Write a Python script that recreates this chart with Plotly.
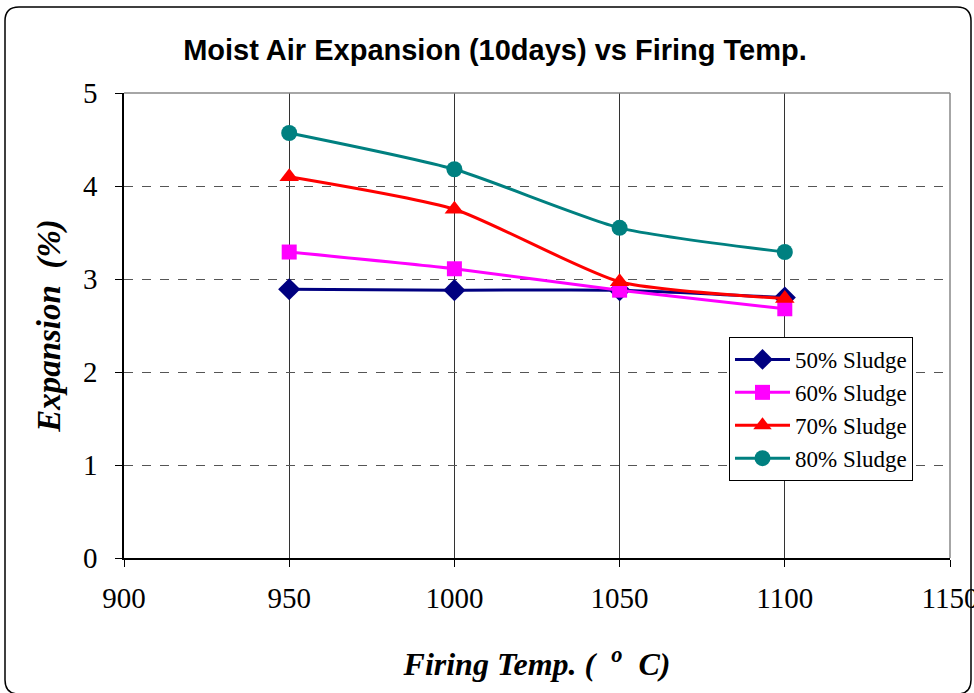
import plotly.graph_objects as go

temps = [950, 1000, 1050, 1100]
sludge50 = [2.89, 2.88, 2.88, 2.80]
sludge60 = [3.29, 3.11, 2.88, 2.68]
sludge70 = [4.10, 3.75, 2.97, 2.79]
sludge80 = [4.57, 4.18, 3.55, 3.29]

series = [
    ("50% Sludge", sludge50, "#000080", "diamond", 17),
    ("60% Sludge", sludge60, "#FF00FF", "square", 15),
    ("70% Sludge", sludge70, "#FF0000", "triangle-up", 17),
    ("80% Sludge", sludge80, "#008080", "circle", 16),
]

W, H = 974, 693
L, R, T, B = 124, 950, 93, 558

fig = go.Figure()
for name, vals, col, sym, sz in series:
    fig.add_trace(go.Scatter(
        x=temps, y=vals, name=name, mode="lines+markers",
        line=dict(color=col, width=3, shape="spline", smoothing=0.6),
        marker=dict(symbol=sym, size=sz, color=col),
    ))

def px(x):
    return (x - L) / (R - L)

def py(y):
    return (B - y) / (B - T)

# rounded outer border
x0, x1, y0, y1, r = 5, 971, 7, 694, 14
rx = r / (R - L)
ry = r / (B - T)
X0, X1, Y0, Y1 = px(x0), px(x1), py(y1), py(y0)
path = (f"M {X0+rx},{Y1} L {X1-rx},{Y1} Q {X1},{Y1} {X1},{Y1-ry} "
        f"L {X1},{Y0+ry} Q {X1},{Y0} {X1-rx},{Y0} L {X0+rx},{Y0} "
        f"Q {X0},{Y0} {X0},{Y0+ry} L {X0},{Y1-ry} Q {X0},{Y1} {X0+rx},{Y1} Z")

fig.update_layout(
    width=W, height=H,
    margin=dict(l=L, r=W - R, t=T, b=H - B, autoexpand=False),
    paper_bgcolor="white", plot_bgcolor="white",
    title=dict(text="<b>Moist Air Expansion (10days) vs Firing Temp.</b>",
               x=495 / W, xanchor="center", y=1 - 50 / H, yanchor="middle",
               font=dict(family="Liberation Sans", size=29, color="black")),
    xaxis=dict(range=[900, 1150], tickvals=[900, 950, 1000, 1050, 1100, 1150],
               showgrid=True, gridcolor="#333333", gridwidth=1, griddash="solid",
               showline=True, linecolor="black", linewidth=1.5,
               ticks="outside", ticklen=7, tickcolor="black",
               tickfont=dict(family="Liberation Serif", size=29, color="black"),
               ticklabelstandoff=6, ticklabeloverflow="allow",
               zeroline=False, automargin=False,
               title=dict(text="<b><i>Firing Temp. (  <sup>o</sup>  C)</i></b>",
                          font=dict(family="Liberation Serif", size=32, color="black"),
                          standoff=40)),
    yaxis=dict(range=[0, 5], tickvals=[0, 1, 2, 3, 4, 5],
               showgrid=True, gridcolor="#555555", gridwidth=1, griddash="dash",
               showline=True, linecolor="black", linewidth=1.5,
               ticks="outside", ticklen=7, tickcolor="black",
               tickfont=dict(family="Liberation Serif", size=29, color="black"),
               ticklabelstandoff=12, zeroline=False, automargin=False,
               title=dict(text="<b><i>Expansion  (%)</i></b>",
                          font=dict(family="Liberation Serif", size=33, color="black"),
                          standoff=12)),
    legend=dict(x=px(729), y=py(337), xanchor="left", yanchor="top",
                bgcolor="white", bordercolor="black", borderwidth=1,
                font=dict(family="Liberation Serif", size=23, color="black"),
                tracegroupgap=0, itemwidth=55),
    showlegend=True,
    shapes=[
        dict(type="line", xref="paper", yref="paper", x0=0, x1=1, y0=1, y1=1,
             line=dict(color="#888888", width=1.5), layer="above"),
        dict(type="line", xref="paper", yref="paper", x0=1, x1=1, y0=0, y1=1,
             line=dict(color="#888888", width=1.5), layer="above"),
        dict(type="path", xref="paper", yref="paper", path=path,
             line=dict(color="black", width=1.5)),
    ],
)

fig.write_html("out.html")
